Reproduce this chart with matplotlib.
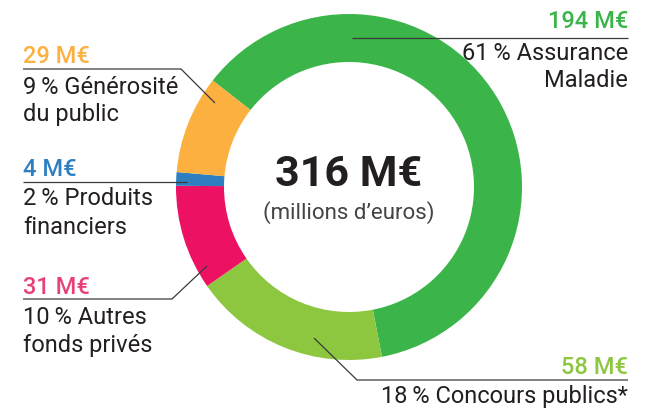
import matplotlib.pyplot as plt

# data
labels = ["Assurance\nMaladie", "Concours publics*", "Autres\nfonds privés",
          "Produits\nfinanciers", "Générosité\ndu public"]
values = [194, 58, 31, 4, 29]
percents = [61, 18, 10, 2, 9]
colors = ["#3bb54a", "#8dc63f", "#ed1164", "#2e7fc1", "#fbb040"]
label_colors = ["#3bb54a", "#8dc63f", "#e8417a", "#2e7fc1", "#fbb040"]
total = sum(values)

plt.rcParams['font.family'] = ['Roboto', 'DejaVu Sans']
H = 408
fig = plt.figure(figsize=(6.49, 4.08), dpi=100)
ax = fig.add_axes([0, 0, 1, 1])

ax.pie(values, colors=colors, startangle=142, counterclock=False,
       center=(349, H - 187), radius=173,
       wedgeprops=dict(width=48, linewidth=0))
ax.set_xlim(0, 649)
ax.set_ylim(0, H)
ax.axis('off')

dark = "#231f20"

# leader lines (pixel coords, y from top)
leaders = [
    [(352, 38), (628, 38)],
    [(314, 338), (357, 380), (628, 380)],
    [(207, 266), (172, 299), (23, 299)],
    [(187, 182), (23, 182)],
    [(215, 103), (181, 69), (23, 69)],
]
for pts in leaders:
    ax.plot([p[0] for p in pts], [H - p[1] for p in pts], color="#3a3a3a", lw=0.9,
            solid_capstyle='butt')

# label positions: x, align, baselines (value, line1, line2)
pos = [
    (628, 'right', [28, 60, 87]),
    (628, 'right', [374, 403, None]),
    (23, 'left', [294, 324, 352]),
    (23, 'left', [176, 205, 234]),
    (23, 'left', [63, 94, 121]),
]
for i, (x, ha, ys) in enumerate(pos):
    ax.text(x, H - ys[0], f"{values[i]} M€", color=label_colors[i], fontsize=17,
            fontweight='medium', ha=ha, va='baseline')
    parts = labels[i].split("\n")
    first = f"{percents[i]}\u2009% {parts[0]}"
    ax.text(x, H - ys[1], first, color=dark, fontsize=17, ha=ha, va='baseline')
    if len(parts) > 1:
        ax.text(x, H - ys[2], parts[1], color=dark, fontsize=17, ha=ha, va='baseline')

ax.text(349, H - 186, f"{total} M€", color=dark, fontsize=31, fontweight='bold',
        ha='center', va='baseline')
ax.text(349, H - 219, "(millions d’euros)", color="#444444", fontsize=16,
        ha='center', va='baseline')

fig.savefig("out.png", dpi=100)
